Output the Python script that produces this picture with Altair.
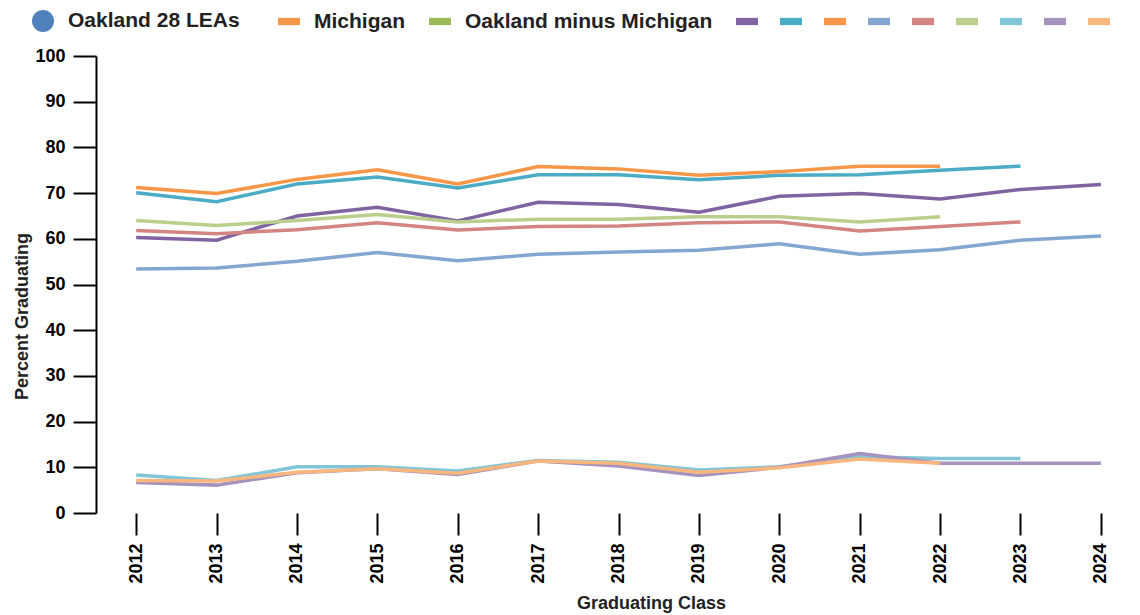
import altair as alt
import pandas as pd

years = list(range(2012, 2025))

legend_names = ["Oakland 28 LEAs", "Michigan", "Oakland minus Michigan"]
legend_colors = ["#4F81BD", "#F79646", "#9BBB59"]

series_names = ["Series 1", "Series 2", "Series 3", "Series 4", "Series 5",
                "Series 6", "Series 7", "Series 8", "Series 9"]
series_colors = ["#8064A2", "#4BACC6", "#F79646", "#84A7D1", "#D38582",
                 "#B9CF8B", "#81C5D7", "#A692BE", "#F9B67D"]

s1 = [60.3, 59.7, 65.0, 66.9, 63.9, 68.0, 67.5, 65.8, 69.3, 69.9, 68.7, 70.8, 71.9]
s2 = [70.1, 68.1, 72.0, 73.5, 71.1, 74.0, 74.0, 72.9, 73.9, 74.0, 75.0, 75.9, None]
s3 = [71.2, 69.9, 73.0, 75.1, 72.0, 75.8, 75.3, 73.9, 74.7, 75.9, 75.9, None, None]
s4 = [53.4, 53.6, 55.1, 57.0, 55.2, 56.6, 57.1, 57.5, 58.9, 56.6, 57.6, 59.7, 60.6]
s5 = [61.8, 61.1, 62.0, 63.5, 61.9, 62.7, 62.8, 63.5, 63.7, 61.7, 62.7, 63.7, None]
s6 = [64.0, 62.9, 64.0, 65.3, 63.7, 64.3, 64.3, 64.8, 64.8, 63.7, 64.8, None, None]
s7 = [8.3, 7.1, 10.1, 10.1, 9.2, 11.5, 11.1, 9.4, 10.1, 12.3, 11.9, 11.9, None]
s8 = [6.7, 6.1, 8.8, 9.7, 8.4, 11.4, 10.3, 8.2, 10.0, 13.0, 10.9, 10.9, 10.9]
s9 = [7.1, 7.0, 8.9, 9.7, 8.7, 11.4, 10.9, 8.9, 9.9, 11.8, 10.9, None, None]

all_series = [s1, s2, s3, s4, s5, s6, s7, s8, s9]

rows = []
for name, vals in zip(series_names, all_series):
    for yr, v in zip(years, vals):
        if v is not None:
            rows.append({"year": yr, "value": v, "series": name})
df = pd.DataFrame(rows)

FONT = "Liberation Sans"
PAD = "\u2800"  # blank braille cell: invisible filler that is not trimmed

label_expr = (
    "datum.label == 'Oakland 28 LEAs' ? datum.label + '" + PAD * 2 + "' : "
    "datum.label == 'Michigan' ? datum.label + '" + PAD * 1 + "' : "
    "datum.label == 'Oakland minus Michigan' ? datum.label + '" + PAD * 1 + "' : ''"
)

legend = alt.Legend(
    orient="none",
    direction="horizontal",
    legendX=-64,
    legendY=-46,
    title=None,
    labelFont=FONT,
    labelFontSize=21,
    labelFontWeight="bold",
    labelColor="#222222",
    labelOffset=14,
    labelLimit=0,
    columnPadding=8,
    symbolSize=484,
    symbolType={"expr": "datum.value === 'Oakland 28 LEAs' ? 'circle' : 'M-1,-0.33H1V0.33H-1Z'"},
    symbolFillColor={"expr": "scale('color', datum.value)"},
    symbolStrokeWidth=0,
    symbolOpacity=1,
    labelExpr=label_expr,
)

chart = (
    alt.Chart(df)
    .mark_line(strokeWidth=3.5)
    .encode(
        x=alt.X(
            "year:Q",
            scale=alt.Scale(domain=[2011.5, 2024.3], nice=False, zero=False),
            axis=alt.Axis(
                values=years,
                format="d",
                labelAngle=270,
                labelAlign="right",
                labelBaseline="middle",
                tickSize=22,
                tickWidth=2,
                tickColor="black",
                domain=False,
                labelPadding=8,
                labelFont=FONT,
                labelFontSize=18,
                labelFontWeight="bold",
                labelColor="black",
                title="Graduating Class",
                titleFont=FONT,
                titleFontSize=18,
                titleFontWeight="bold",
                titleColor="#222222",
                titleX=555,
                titlePadding=11,
                grid=False,
            ),
        ),
        y=alt.Y(
            "value:Q",
            scale=alt.Scale(domain=[0, 100], nice=False),
            axis=alt.Axis(
                values=list(range(0, 101, 10)),
                tickSize=23,
                tickWidth=2,
                tickColor="black",
                domainWidth=2,
                domainColor="black",
                labelPadding=8,
                labelFont=FONT,
                labelFontSize=18,
                labelFontWeight="bold",
                labelColor="black",
                title="Percent Graduating",
                titleFont=FONT,
                titleFontSize=18,
                titleFontWeight="bold",
                titleColor="#222222",
                titlePadding=3,
                titleY=260,
                grid=False,
            ),
        ),
        color=alt.Color(
            "series:N",
            scale=alt.Scale(domain=legend_names + series_names,
                            range=legend_colors + series_colors),
            legend=legend,
        ),
        order=alt.Order("series:N"),
    )
    .properties(width=1029, height=457,
                padding={"left": 5, "top": 2, "right": 0, "bottom": 5})
    .configure_view(strokeWidth=0)
)

chart.save("out.html", embed_options={"renderer": "svg", "actions": False})
